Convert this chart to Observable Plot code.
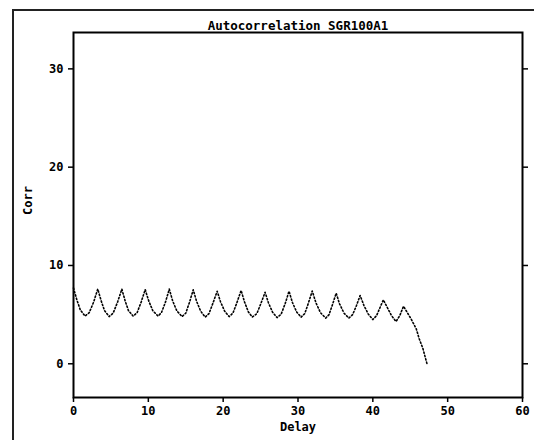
<!DOCTYPE html>
<html>
<head>
<meta charset="utf-8">
<script src="https://cdn.jsdelivr.net/npm/d3@7"></script>
<script src="https://cdn.jsdelivr.net/npm/@observablehq/plot@0.6"></script>
<style>
  html, body { margin: 0; padding: 0; background: #fff; overflow: hidden; }
  #wrap { position: relative; width: 534px; height: 440px; }
  #outer { position: absolute; left: 12px; top: 9px; width: 600px; height: 500px;
           border-left: 2px solid #222; border-top: 2px solid #222; box-sizing: border-box; }
  #chart { position: absolute; left: 0; top: 0; }
</style>
</head>
<body>
<div id="wrap"><div id="outer"></div><div id="chart"></div></div>
<script>
const title = "Autocorrelation SGR100A1";
const xLabel = "Delay";
const yLabel = "Corr";
const xTicks = [0, 10, 20, 30, 40, 50, 60];
const yTicks = [0, 10, 20, 30];

const delay = [
  0.00, 0.45, 0.90, 1.54, 2.10, 2.70,
  3.24, 3.70, 4.15, 4.76, 5.30, 5.90,
  6.46, 6.90, 7.35, 7.98, 8.50, 9.05,
  9.58, 10.05, 10.60, 11.30, 11.75, 12.30,
  12.80, 13.25, 13.80, 14.50, 15.00, 15.50,
  16.00, 16.45, 17.00, 17.60, 18.10, 18.65,
  19.20, 19.65, 20.20, 20.80, 21.30, 21.85,
  22.40, 22.85, 23.35, 23.90, 24.50, 25.05,
  25.60, 26.05, 26.60, 27.20, 27.75, 28.30,
  28.80, 29.25, 29.80, 30.40, 30.90, 31.40,
  31.90, 32.40, 33.00, 33.70, 34.15, 34.60,
  35.10, 35.55, 36.15, 36.80, 37.30, 37.80,
  38.30, 38.80, 39.40, 40.00, 40.50, 40.95,
  41.40, 41.95, 42.50, 43.10, 43.60,
  44.10, 45.10, 45.80, 46.20, 46.70, 47.00, 47.30
];
const corr = [
  7.70, 6.50, 5.50, 4.85, 5.20, 6.30,
  7.60, 6.40, 5.40, 4.80, 5.15, 6.30,
  7.60, 6.40, 5.40, 4.85, 5.20, 6.30,
  7.55, 6.40, 5.40, 4.85, 5.20, 6.30,
  7.60, 6.40, 5.40, 4.80, 5.15, 6.25,
  7.53, 6.35, 5.35, 4.75, 5.10, 6.20,
  7.38, 6.30, 5.35, 4.80, 5.15, 6.25,
  7.46, 6.30, 5.30, 4.75, 5.10, 6.15,
  7.28, 6.20, 5.25, 4.70, 5.05, 6.15,
  7.38, 6.25, 5.30, 4.74, 5.10, 6.20,
  7.40, 6.20, 5.20, 4.65, 5.00, 6.00,
  7.18, 6.10, 5.15, 4.65, 5.00, 5.90,
  6.95, 5.95, 5.05, 4.50, 4.90, 5.70,
  6.50, 5.70, 4.90, 4.30, 4.90,
  5.85, 4.58, 3.56, 2.54, 1.53, 0.67, -0.17
];

const data = delay.map((d, i) => ({delay: d, corr: corr[i]}));
const font = "'DejaVu Sans Mono', monospace";

const plot = Plot.plot({
  width: 534,
  height: 440,
  marginLeft: 73,
  marginRight: 12,
  marginTop: 32,
  marginBottom: 43,
  style: { fontFamily: font, fontWeight: "bold", fontSize: "12px", color: "#000", background: "transparent" },
  x: { domain: [0, 60], label: null },
  y: { domain: [-3.43, 33.7], label: null },
  marks: [
    Plot.frame({ stroke: "#000", strokeWidth: 2 }),
    Plot.axisX({ ticks: xTicks, tickSize: 5, tickPadding: 4, stroke: "#000", strokeWidth: 1.5, label: null, fontSize: 12 }),
    Plot.axisY({ anchor: "left", ticks: yTicks, tickSize: 5, tickPadding: 5, stroke: "#000", strokeWidth: 1.5, label: null, fontSize: 12 }),
    Plot.axisY({ anchor: "right", ticks: yTicks, tickSize: 5, tickFormat: () => "", stroke: "#000", strokeWidth: 1.5, label: null }),
    Plot.line(data, { x: "delay", y: "corr", stroke: "#000", strokeWidth: 1.6, strokeDasharray: "1.3 2.2" }),
    Plot.text([title], { frameAnchor: "top", dy: -11, text: d => d, fontSize: 12.5, fontWeight: "bold" }),
    Plot.text([xLabel], { frameAnchor: "bottom", dy: 33, text: d => d, fontSize: 12, fontWeight: "bold" }),
    Plot.text([yLabel], { frameAnchor: "left", dx: -45, rotate: -90, text: d => d, fontSize: 12, fontWeight: "bold" })
  ]
});
document.getElementById("chart").appendChild(plot);
</script>
</body>
</html>
